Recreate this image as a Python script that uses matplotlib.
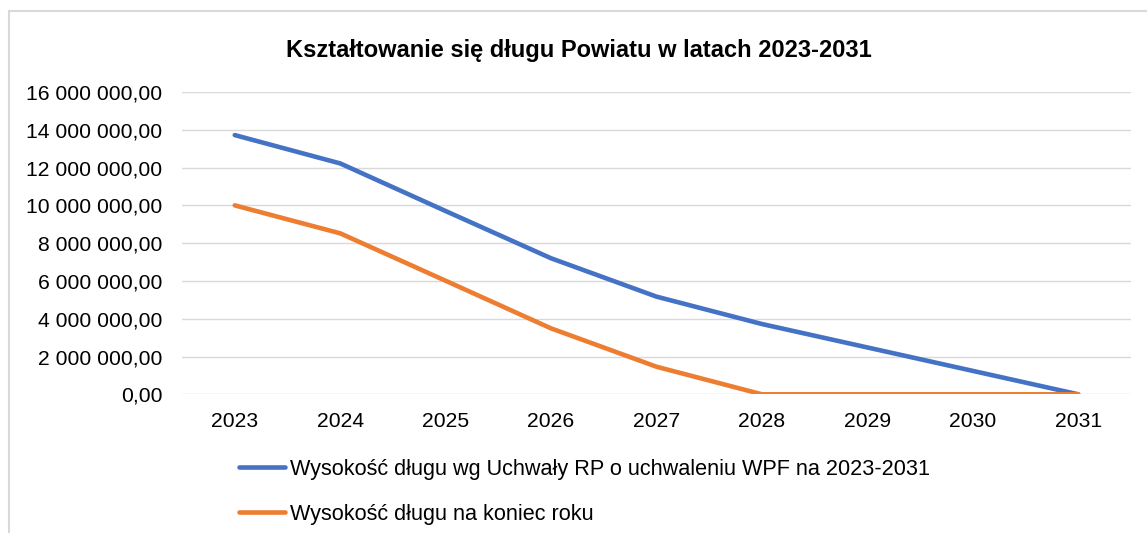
import matplotlib
matplotlib.use('Agg')
import matplotlib.pyplot as plt
from matplotlib.patches import Rectangle
from matplotlib.ticker import FuncFormatter, MultipleLocator

plt.rcParams['font.family'] = ['Liberation Sans', 'DejaVu Sans']

years = ['2023', '2024', '2025', '2026', '2027', '2028', '2029', '2030', '2031']
debt_wpf = [13720000, 12220000, 9700000, 7200000, 5170000, 3720000, 2480000, 1240000, 0]
debt_end = [10000000, 8520000, 6010000, 3490000, 1460000, 0, 0, 0, 0]
labels = ['Wysokość długu wg Uchwały RP o uchwaleniu WPF na 2023-2031',
          'Wysokość długu na koniec roku']
title = 'Kształtowanie się długu Powiatu w latach 2023-2031'

fig = plt.figure(figsize=(11.47, 5.33), dpi=100)
ax = fig.add_axes([0.1587, 0.2602, 0.9860 - 0.1587, 0.8274 - 0.2602])

x = range(len(years))
ax.plot(x, debt_wpf, color='#4472C4', lw=3.3, solid_capstyle='round', label=labels[0])
ax.plot(x, debt_end, color='#ED7D31', lw=3.3, solid_capstyle='round', label=labels[1])

ax.set_xlim(-0.5, len(years) - 0.5)
ax.set_ylim(0, 16000000)
ax.set_xticks(list(x))
ax.set_xticklabels(years)
ax.yaxis.set_major_locator(MultipleLocator(2000000))
ax.yaxis.set_major_formatter(FuncFormatter(
    lambda v, p: f'{v:,.2f}'.replace(',', ' ').replace('.', ',')))
ax.grid(axis='y', color='#D9D9D9', lw=1.0)
ax.set_axisbelow(True)
for s in ax.spines.values():
    s.set_visible(False)
ax.tick_params(axis='both', length=0, labelsize=15.2, colors='#000000')
ax.tick_params(axis='y', pad=14)
ax.tick_params(axis='x', pad=13)

fig.text(0.505, 0.906, title, ha='center', va='center', fontsize=17, fontweight='bold')

fig.legend(loc='upper left', bbox_to_anchor=(0.2005, 0.155), frameon=False,
           borderaxespad=0, fontsize=15.6, handlelength=2.15,
           handletextpad=0.22, labelspacing=1.1)

# chart area border
fig.patches.append(Rectangle((9 / 1147, -0.1), 1.2, 1 - 11 / 533 + 0.1,
                             transform=fig.transFigure, fill=False,
                             edgecolor='#D9D9D9', lw=1.5))

fig.savefig('out.png', dpi=100)
